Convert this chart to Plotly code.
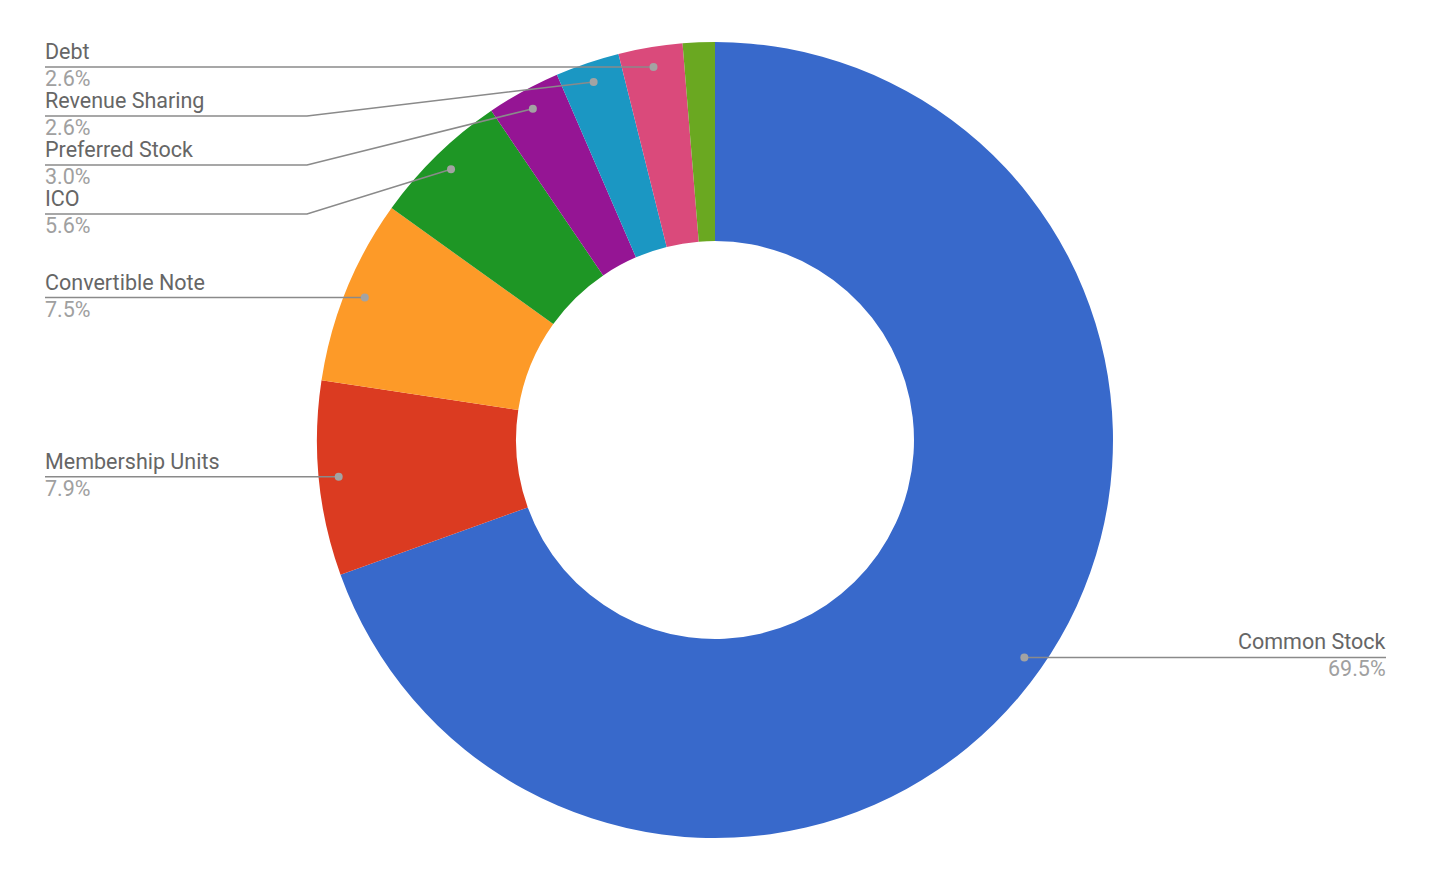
import math
import plotly.graph_objects as go

# ---- data ----
categories = ["Common Stock", "Membership Units", "Convertible Note", "ICO",
              "Preferred Stock", "Revenue Sharing", "Debt", "Other"]
shares = [69.5, 7.9, 7.5, 5.6, 3.0, 2.6, 2.6, 1.3]
show_label = [True, True, True, True, True, True, True, False]
colors = ["#3869cb", "#db3b21", "#fd9a28", "#1e9625", "#951594",
          "#1b97c3", "#da4a7b", "#6aa821"]

# ---- layout geometry (pixels, page coords; page body has 8px margin) ----
OFF = 8
W, H = 1432 - 2 * OFF, 886 - 2 * OFF
PW = PH = 796
ML = 715 - OFF - PW // 2
MT = 440 - OFF - PH // 2
MR = W - ML - PW
MB = H - MT - PH
CX = ML + PW / 2
CY = MT + PH / 2
R = min(PW, PH) / 2
DOT_R = R * 0.95
LEFT_X = 45 - OFF
RIGHT_X = 1386 - OFF
BEND_X = 307 - OFF
GAP = 49


def px(x):
    return (x - ML) / PW


def py(y):
    return (H - MB - y) / PH


fig = go.Figure(go.Pie(
    labels=categories, values=shares, sort=False, direction="clockwise",
    rotation=0, hole=0.5, textinfo="none", hoverinfo="label+percent",
    marker=dict(colors=colors, line=dict(width=0)), showlegend=False,
))

total = sum(shares)
cum = 0.0
left, right = [], []
for name, v, show in zip(categories, shares, show_label):
    mid = (cum + v / 2) / total * 2 * math.pi
    cum += v
    if not show:
        continue
    dx, dy = CX + DOT_R * math.sin(mid), CY - DOT_R * math.cos(mid)
    item = dict(name=name, pct=f"{v / total * 100:.1f}%", dx=dx, dy=dy)
    (left if dx < CX else right).append(item)

for group in (left, right):
    group.sort(key=lambda d: d["dy"])
    prev = -1e9
    for it in group:
        it["ly"] = max(it["dy"], prev + GAP)
        prev = it["ly"]

shapes, annots = [], []
name_font = dict(family="Roboto, Arial, sans-serif", size=21.5, color="#666666")
pct_font = dict(family="Roboto, Arial, sans-serif", size=21.5, color="#a0a0a0")


def add(it, side):
    tx = LEFT_X if side == "left" else RIGHT_X
    if abs(it["ly"] - it["dy"]) > 0.5:
        path = (f"M {px(it['dx'])} {py(it['dy'])} L {px(BEND_X)} {py(it['ly'])} "
                f"L {px(tx)} {py(it['ly'])}")
    else:
        path = f"M {px(it['dx'])} {py(it['dy'])} L {px(tx)} {py(it['ly'])}"
    shapes.append(dict(type="path", xref="paper", yref="paper", path=path,
                       line=dict(color="#8a8a8a", width=1.5)))
    r = 4
    shapes.append(dict(type="circle", xref="paper", yref="paper",
                       x0=px(it["dx"] - r), x1=px(it["dx"] + r),
                       y0=py(it["dy"] + r), y1=py(it["dy"] - r),
                       fillcolor="#a3a3a3", line=dict(width=0)))
    anchor = "left" if side == "left" else "right"
    xs = -2 if side == "left" else 2
    annots.append(dict(xref="paper", yref="paper", x=px(tx), y=py(it["ly"]),
                       text=it["name"], showarrow=False, xanchor=anchor,
                       yanchor="bottom", font=name_font, yshift=1, xshift=xs))
    annots.append(dict(xref="paper", yref="paper", x=px(tx), y=py(it["ly"]),
                       text=it["pct"], showarrow=False, xanchor=anchor,
                       yanchor="top", font=pct_font, yshift=3, xshift=xs))


for it in left:
    add(it, "left")
for it in right:
    add(it, "right")

fig.update_layout(
    width=W, height=H, paper_bgcolor="white", plot_bgcolor="white",
    margin=dict(l=ML, r=MR, t=MT, b=MB, autoexpand=False),
    shapes=shapes, annotations=annots,
)
fig.write_html("out.html")
